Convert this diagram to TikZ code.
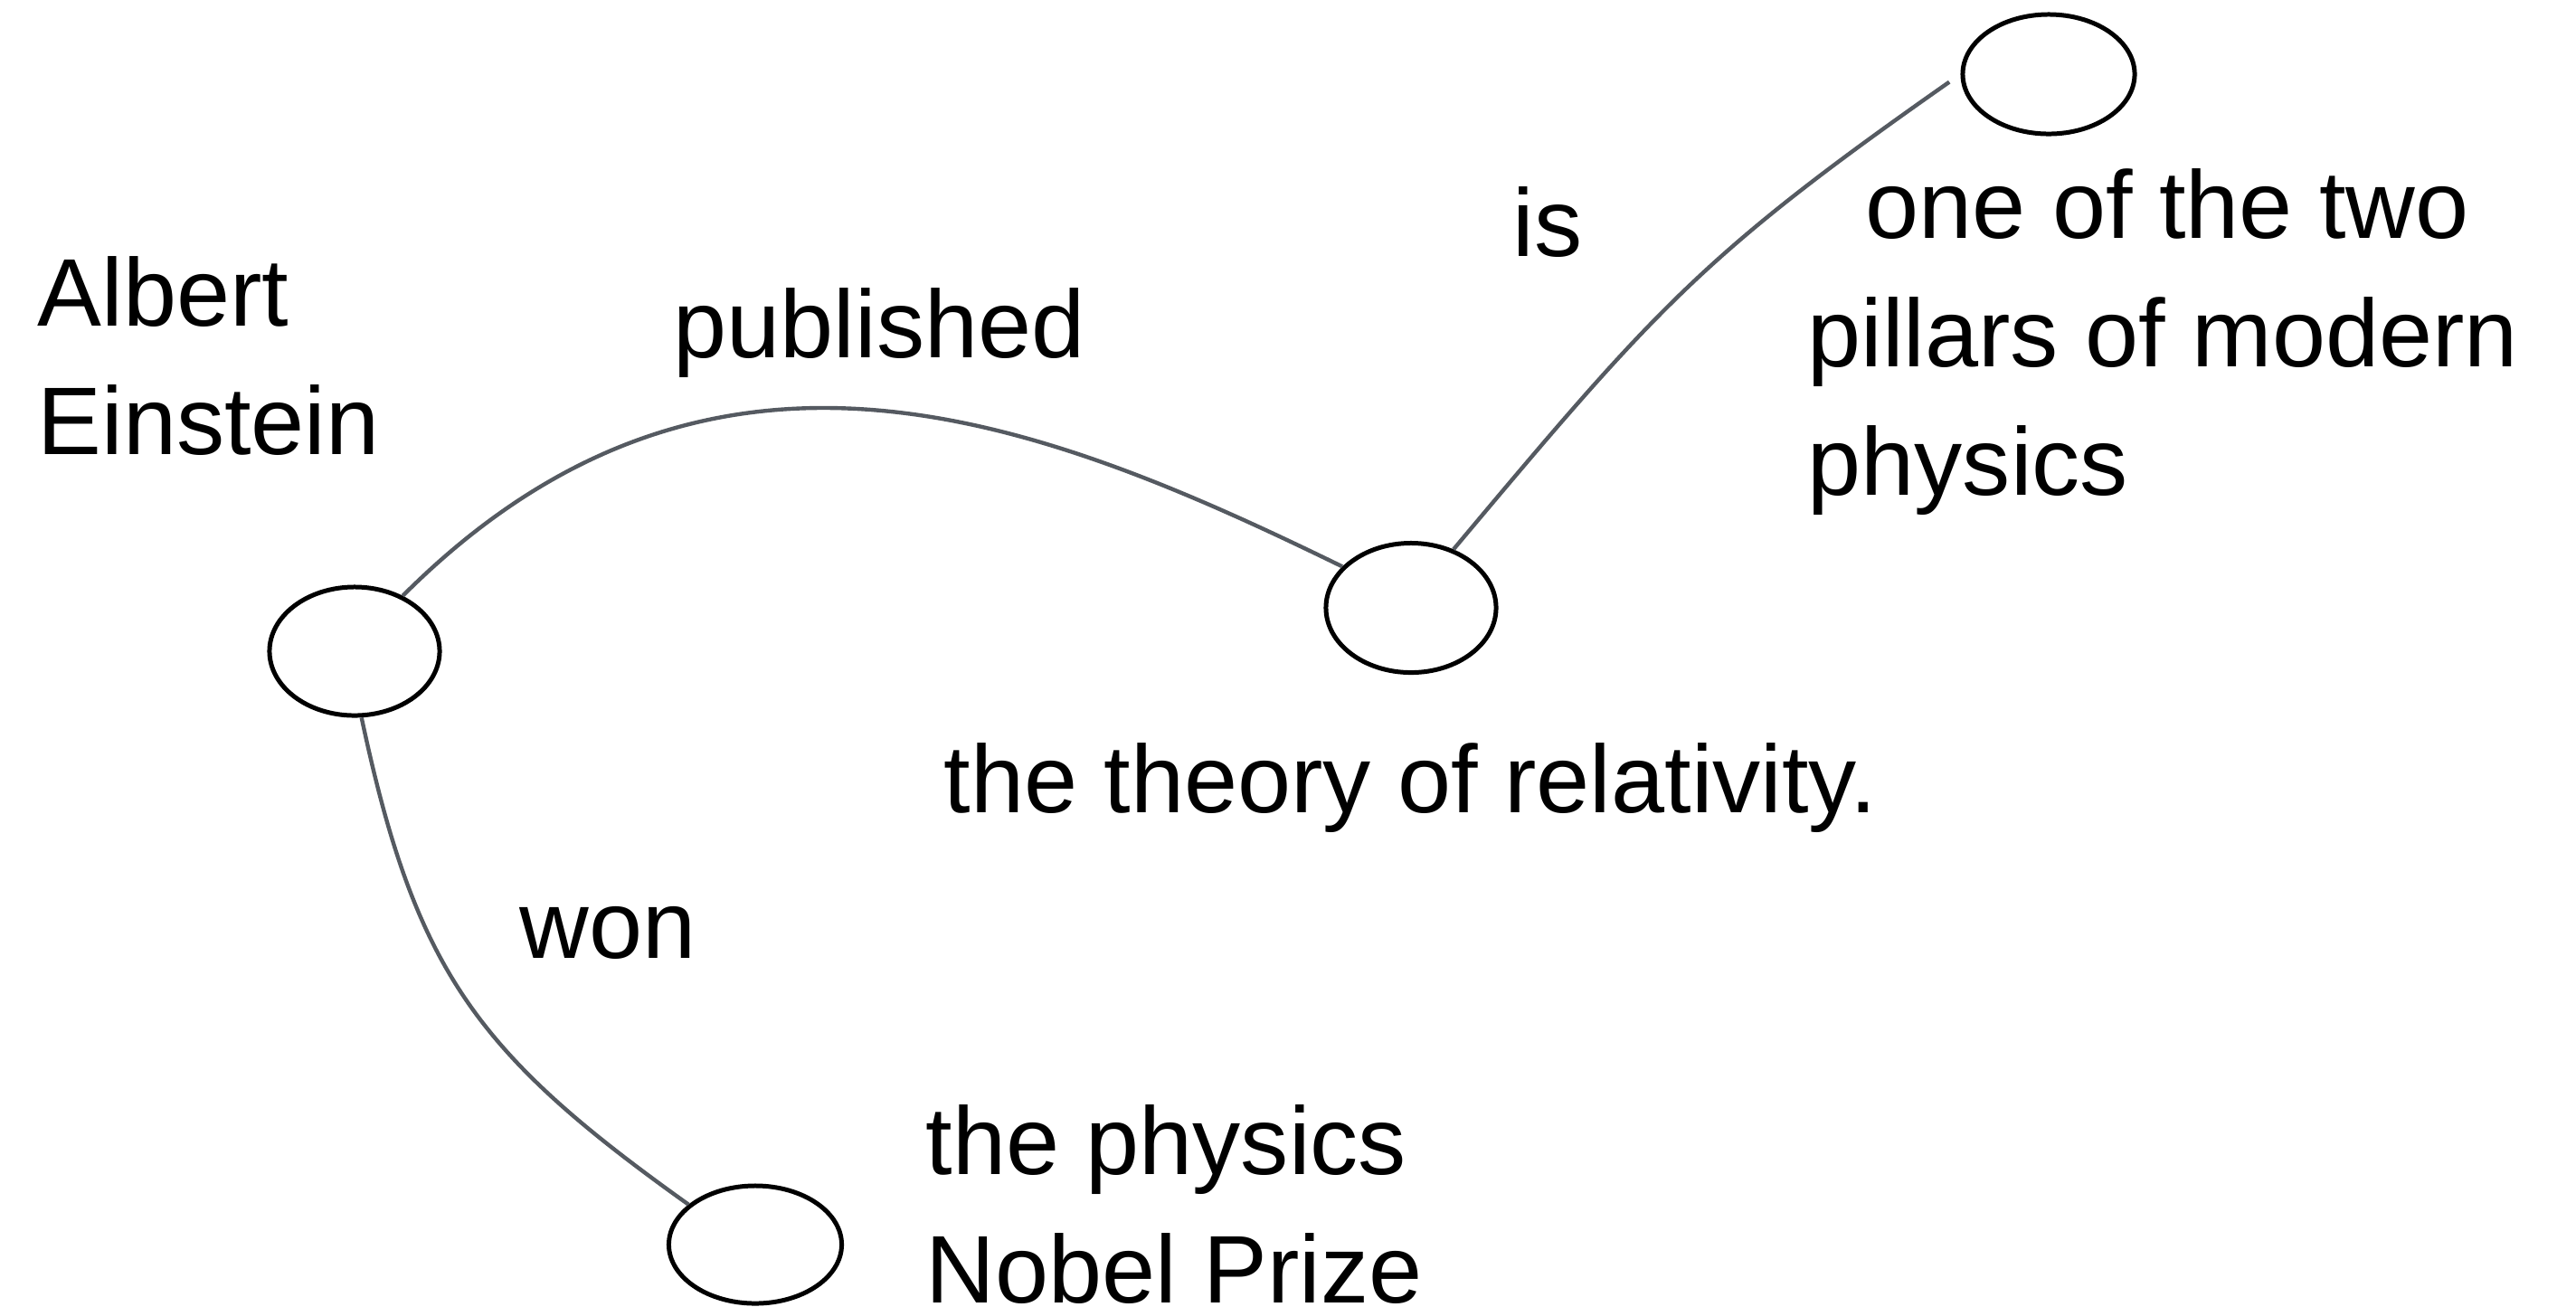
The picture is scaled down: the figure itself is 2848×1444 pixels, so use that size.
\documentclass[tikz,border=0pt]{standalone}
\usepackage{fontspec}
\setmainfont{Liberation Sans}
\usetikzlibrary{shapes,positioning}
\definecolor{edgegray}{HTML}{555A61}

\begin{document}
\begin{tikzpicture}[x=0.01cm, y=0.01cm,
  ent/.style={ellipse, draw, line width=1.42pt, minimum width=1.88cm, minimum height=1.42cm, inner sep=0pt},
  lbl/.style={anchor=base west, inner sep=0pt, align=left, font=\fontsize{30.2pt}{40.3pt}\selectfont},
  rel/.style={draw=edgegray, line width=1.25pt}
]
  \useasboundingbox (0,0) rectangle (2848,-1444);
  \node[ent] (einstein) at (392,-720) {};
  \node[ent, minimum height=1.43cm] (relativity) at (1560,-672) {};
  \node[ent, minimum width=1.90cm, minimum height=1.32cm] (pillars) at (2265,-82) {};
  \node[ent, minimum width=1.91cm, minimum height=1.30cm] (nobel) at (835,-1376) {};

  % multi-line texts sit on the baseline of their last line
  \node[lbl] (einsteinTxt) at (41,-502) {Albert\\Einstein};
  \node[lbl] (relativityTxt) at (1043,-898) {the theory of relativity.};
  \node[lbl] (pillarsTxt) at (1998,-547) {\hspace*{0.6em}one of the two\\pillars of modern\\physics};
  \node[lbl] (nobelTxt) at (1023,-1440) {the physics\\Nobel Prize};

  \node[lbl] (published) at (744,-395) {published};
  \node[lbl] (is) at (1672,-283) {is};
  \node[lbl] (won) at (574,-1059) {won};

  \draw[rel] (einstein.49) to[out=45, in=154, out distance=4.8cm, in distance=3.77cm] (relativity.149);
  \draw[rel, shorten >=0.15cm] (relativity.54) to[out=50, in=215, out distance=3.48cm, in distance=3.48cm] (pillars.west);
  \draw[rel] (einstein.276) to[out=-78, in=144.5, out distance=2.87cm, in distance=2.87cm] (nobel.149);
\end{tikzpicture}
\end{document}
